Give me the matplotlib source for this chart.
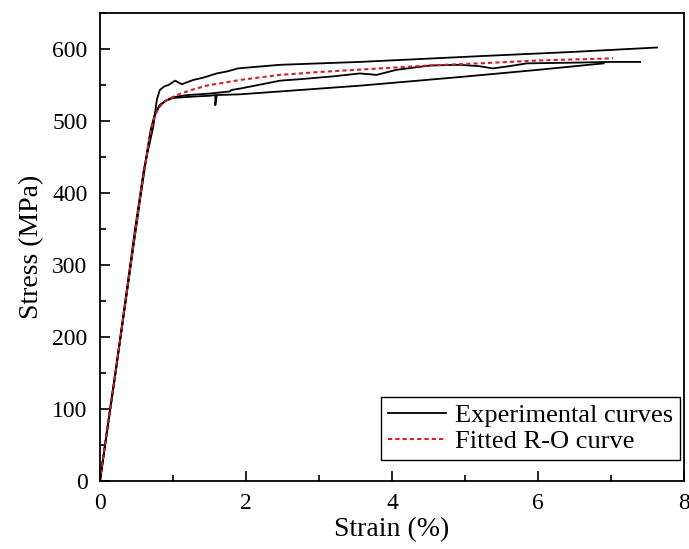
import numpy as np
import matplotlib.pyplot as plt
from matplotlib.ticker import MultipleLocator

# ---------------------------------------------
# data (strain in %, stress in MPa)
strain_a = [0, 0.1, 0.2, 0.3, 0.48, 0.6, 0.73, 0.78, 0.82, 0.88, 0.94, 1.03, 1.12,
            1.28, 1.41, 1.6, 1.75, 1.89, 2.0, 2.47, 3.56, 5.2, 6.5, 7.63]
stress_a = [0, 72, 140, 215, 350, 432, 492, 530, 543, 548, 550, 556, 551,
            557, 560, 566, 569, 573, 574, 578, 582, 590, 596, 602]

strain_b = [0, 0.15, 0.3, 0.45, 0.6, 0.7, 0.76, 0.82, 0.9, 1.0, 1.2, 1.5, 1.78,
            1.8, 1.92, 2.12, 2.47, 2.74, 3.2, 3.56, 3.79, 4.06, 4.52, 4.93,
            5.2, 5.38, 5.6, 5.85, 6.5, 7.0, 7.4]
stress_b = [0, 108, 212, 322, 428, 490, 512, 522, 528, 533, 536, 538, 541,
            543, 545, 549, 556, 558, 562, 566, 564, 571, 577, 578,
            576, 573, 576, 580, 581, 582, 582]

strain_c = [0, 0.2, 0.4, 0.55, 0.68, 0.75, 0.82, 0.9, 1.0, 1.3, 1.5, 1.58, 1.58,
            1.6, 1.92, 2.47, 3.56, 4.93, 6.0, 6.9]
stress_c = [0, 142, 284, 392, 478, 508, 522, 528, 532, 534, 535, 536, 522,
            536, 537, 541, 549, 561, 571, 580]

strain_ro = [0, 0.2, 0.4, 0.6, 0.68, 0.74, 0.8, 0.9, 1.05, 1.25, 1.46, 1.92, 2.47,
             3.0, 3.84, 4.5, 5.2, 6.0, 7.03]
stress_ro = [0, 143, 287, 428, 478, 503, 518, 528, 536, 543, 549, 557, 564,
             568, 573, 577, 580, 584, 587]

# ---------------------------------------------
# 绘图
plt.rcParams['font.family'] = ['Liberation Serif', 'DejaVu Serif']

fig = plt.figure(figsize=(6.89, 5.49), dpi=100)
ax = fig.add_axes([0.1451, 0.1239, 0.8476, 0.8525])

ax.plot(strain_a, stress_a, color='black', lw=1.3, label='Experimental curves')
ax.plot(strain_b, stress_b, color='black', lw=1.3)
ax.plot(strain_c, stress_c, color='black', lw=1.3)
ax.plot(strain_ro, stress_ro, color='#d0202a', lw=1.5, linestyle=(0, (2, 1.5)),
        label='Fitted R-O curve')

ax.set_xlim(0, 8)
ax.set_ylim(0, 650)
ax.xaxis.set_major_locator(MultipleLocator(2))
ax.xaxis.set_minor_locator(MultipleLocator(1))
ax.yaxis.set_major_locator(MultipleLocator(100))
ax.yaxis.set_minor_locator(MultipleLocator(50))
ax.tick_params(which='both', direction='in', labelsize=17, width=1.2)
ax.tick_params(which='major', length=7, pad=9)
ax.tick_params(which='minor', length=4)
for s in ax.spines.values():
    s.set_linewidth(1.3)

ax.set_xlabel('Strain (%)', fontsize=20, labelpad=2)
ax.set_ylabel('Stress (MPa)', fontsize=20, labelpad=6)

leg = ax.legend(loc='lower right', bbox_to_anchor=(0.993, 0.045), fontsize=19,
                handlelength=2.2, fancybox=False, edgecolor='black', framealpha=1,
                borderpad=0.25, labelspacing=0.1, handletextpad=0.35,
                borderaxespad=0)
leg.get_frame().set_linewidth(1.0)

fig.savefig('out.png', dpi=100)
